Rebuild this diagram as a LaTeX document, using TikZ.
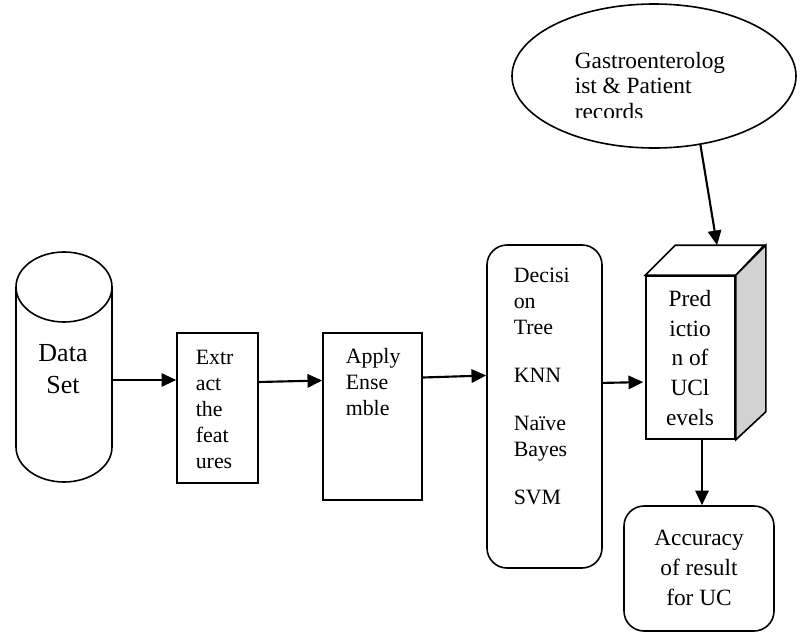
\documentclass[tikz,border=0pt]{standalone}
\usepackage{fontspec}
\setmainfont{Liberation Serif}
\usetikzlibrary{shapes.geometric,arrows.meta,calc}
\begin{document}
\begin{tikzpicture}[x=0.75pt,y=-0.75pt,
  line width=1.2pt,
  sqbox/.style={draw, rectangle, inner sep=0pt},
  rndbox/.style={draw, rectangle, rounded corners=15pt, inner sep=0pt},
  ltxt/.style={inner sep=0pt, align=left, anchor=base west},
  ctxt/.style={inner sep=0pt, align=center, anchor=base},
  fsmall/.style={font=\fontsize{16.4pt}{19.5pt}\selectfont},
  fmid/.style={font=\fontsize{17.5pt}{22.2pt}\selectfont},
  arr/.style={-{Triangle[length=11pt,width=10pt]}, line width=1.6pt},
]
\useasboundingbox (0,0) rectangle (804,632);

% Data set cylinder
\draw (16,287) -- (16,447) arc[start angle=180,end angle=0,x radius=48,y radius=35] -- (112,287);
\draw (64,287) ellipse[x radius=48, y radius=35];
\node[inner sep=0pt, minimum width=72pt, minimum height=120pt] (ds) at (64,380) {};
\node[ctxt, font=\fontsize{19.5pt}{24pt}\selectfont] (dst) at (63,393) {Data\\Set};

% Extract
\node[sqbox, minimum width=60.75pt, minimum height=112.5pt] (ext) at (217.5,408) {};
\node[ltxt, fsmall] (extt) at (195,468) {Extr\\act\\the\\feat\\ures};

% Apply ensemble
\node[sqbox, minimum width=74.25pt, minimum height=125.25pt] (app) at (372.5,416.5) {};
\node[ltxt, fsmall] (appt) at (345,415) {Apply\\Ense\\mble};

% Classifiers
\node[rndbox, minimum width=86.25pt, minimum height=242.25pt] (dec) at (544.5,406.5) {};
\node[ltxt, fsmall] (dect) at (513,504) {Decisi\\on\\Tree\\[16.5pt]KNN\\[16.5pt]Naïve\\Bayes\\[16.5pt]SVM};

% Prediction cube
\node[sqbox, fill=white, minimum width=66.75pt, minimum height=122.25pt] (pred) at (690.5,357.5) {};
\draw[fill=white] (pred.north west) -- ++(30,-30) -- ++(89,0) -- (pred.north east) -- cycle;
\draw[fill=gray!35] (pred.north east) -- ++(30,-30) -- ($(pred.south east)+(30,-28)$) -- (pred.south east) -- cycle;
\node[ctxt, fmid] (predt) at (690,425) {Pred\\ictio\\n of\\UCl\\evels};
\coordinate (cubetop) at ($(pred.north)+(26.5,-30)$);

% Accuracy
\node[rndbox, minimum width=112.5pt, minimum height=93.75pt] (acc) at (699,568.5) {};
\node[ctxt, font=\fontsize{17.5pt}{22.5pt}\selectfont] (acct) at (699,605) {Accuracy\\of result\\for UC};

% Ellipse
\node[draw, ellipse, minimum width=213pt, minimum height=108pt, inner sep=0pt] (ell) at (654,76) {};
\begin{scope}
\clip (500,0) rectangle (804,117);
\node[ltxt, font=\fontsize{17.5pt}{19pt}\selectfont] (ellt) at (574,119) {Gastroenterolog\\ist \& Patient\\records};
\end{scope}

% Connectors
\draw[arr] (ds.east) -- (ext.west |- ds.east);
\draw[arr] ($(ext.east)+(0,-26)$) -- ($(app.west)+(0,-36)$);
\draw[arr] ($(app.east)+(0,-39)$) -- ($(dec.west)+(0,-31)$);
\draw[arr] ($(dec.east)+(0,-23.6)$) -- ($(pred.west)+(-2,24.6)$);
\draw[arr] (ell.-56) -- (cubetop);
\draw[arr] ($(pred.south)+(11.5,0)$) -- (acc.north -| {$(pred.south)+(11.5,0)$});
\end{tikzpicture}
\end{document}
